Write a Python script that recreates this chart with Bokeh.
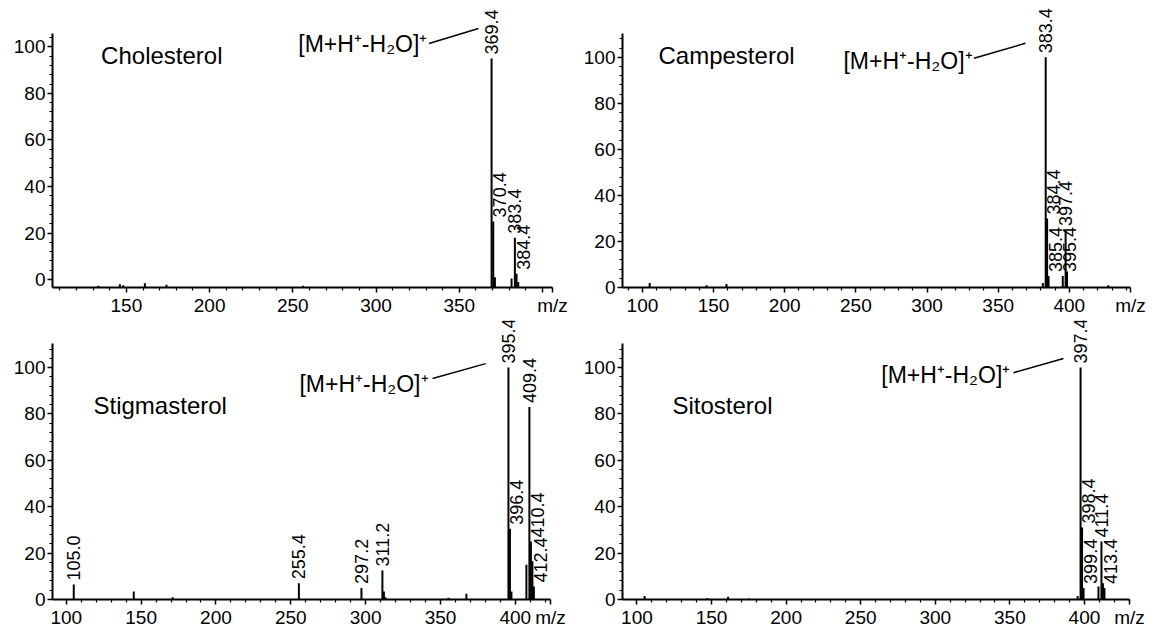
import math
from bokeh.plotting import figure
from bokeh.models import Range1d, FixedTicker, SingleIntervalTicker
from bokeh.layouts import column, row
from bokeh.embed import file_html
from bokeh.resources import INLINE
from bokeh.core.properties import value

FONT = "Liberation Sans"

# ---------------- data (m/z, relative intensity) ----------------
chol_mz = [133.1, 146.1, 148.1, 161.1, 174.1, 256.2, 369.4, 370.4, 371.4, 381.4, 383.4, 384.4, 385.4]
chol_int = [-2.6, -2.0, -2.4, -1.6, -2.2, -2.6, 95, 25, 1, 0.5, 18, 2.5, -1]
chol_labels = ["369.4", "370.4", "383.4", "384.4"]

camp_mz = [105.1, 145.1, 159.1, 381.4, 383.4, 384.4, 385.4, 395.4, 397.4, 398.4, 427.4]
camp_int = [2, 1, 1.5, 2, 100, 30, 5, 5, 25, 7, 1]
camp_labels = ["383.4", "384.4", "385.4", "395.4", "397.4"]

stig_mz = [105.0, 145.1, 171.1, 255.4, 297.2, 311.2, 312.2, 313.2, 355.3, 367.3,
           395.4, 396.4, 397.4, 407.4, 409.4, 410.4, 411.4, 412.4]
stig_int = [6.5, 3.5, 1, 7, 5, 12.5, 3.5, 1, 0.8, 2.5,
            100, 30.5, 3.5, 15, 83, 25, 16.5, 5.6]
stig_labels = ["105.0", "255.4", "297.2", "311.2", "395.4", "396.4", "409.4", "410.4", "412.4"]

sito_mz = [105.1, 147.1, 161.1, 175.1, 395.4, 397.4, 398.4, 399.4, 409.4, 411.4, 412.4, 413.4]
sito_int = [1.5, 0.7, 1.2, 0.4, 1.5, 100, 31, 5, 5.6, 25, 7, 5]
sito_labels = ["397.4", "398.4", "399.4", "411.4", "413.4"]

x_major = [100, 150, 200, 250, 300, 350, 400]
x_minor_step = 10
ion_text = "[M+H\u207a-H\u2082O]\u207a"
axis_unit = "m/z"

# ---------------- layout of the four panels ----------------
panels = [
    dict(name="Cholesterol", mz=chol_mz, inten=chol_int, labels=chol_labels,
         w=577, h=320, bl=52, br=25, bb=33, xr=(105.6, 406.0), yr=(-3.4, 119.9), yb=(-3.4, 105.6),
         title_xy=(134.8, 96.3), ann_xy=(330.8, 101.4), lead=(331.8, 101.4, 361.5, 107.9), hide=[400]),
    dict(name="Campesterol", mz=camp_mz, inten=camp_int, labels=camp_labels,
         w=578, h=320, bl=45, br=25, bb=32, xr=(86.0, 443.0), yr=(0, 124.7), yb=(0, 110.4),
         title_xy=(111.3, 100.9), ann_xy=(332.0, 98.3), lead=(333.0, 99.6, 369.2, 106.1), hide=[]),
    dict(name="Stigmasterol", mz=stig_mz, inten=stig_int, labels=stig_labels,
         w=577, h=312, bl=52, br=27, bb=33, xr=(90.8, 423.5), yr=(0, 120.3), yb=(0, 110.3),
         title_xy=(118.2, 83.6), ann_xy=(342.0, 93.1), lead=(344.7, 95.3, 380.2, 101.7), hide=[]),
    dict(name="Sitosterol", mz=sito_mz, inten=sito_int, labels=sito_labels,
         w=578, h=312, bl=45, br=26, bb=33, xr=(90.3, 430.2), yr=(0, 120.3), yb=(0, 110.3),
         title_xy=(123.8, 83.6), ann_xy=(350.3, 97.0), lead=(352.4, 97.8, 385.9, 103.9), hide=[]),
]


def style_axis(ax):
    ax.axis_line_width = 2
    ax.axis_line_color = "black"
    ax.major_tick_line_color = "black"
    ax.minor_tick_line_color = "black"
    ax.major_tick_line_width = 1.5
    ax.minor_tick_line_width = 1.2
    ax.major_tick_in = 0
    ax.major_tick_out = 5
    ax.minor_tick_in = 0
    ax.minor_tick_out = 3
    ax.major_label_standoff = 2
    ax.major_label_text_font = FONT
    ax.major_label_text_font_size = "19px"
    ax.major_label_text_color = "black"


def make_panel(c):
    x0r, x1r = c["xr"]
    p = figure(width=c["w"], height=c["h"], output_backend="svg", toolbar_location=None,
               x_range=Range1d(x0r, x1r), y_range=Range1d(*c["yr"]),
               min_border_left=c["bl"], min_border_right=c["br"],
               min_border_top=0, min_border_bottom=c["bb"])
    p.outline_line_color = None
    p.background_fill_color = "white"
    p.border_fill_color = "white"
    p.xgrid.visible = False
    p.ygrid.visible = False

    # x ticks: majors every 50, minors every 10, plus the unit label at the axis end
    unit_pos = round(x1r - 0.01, 2)
    majors = [t for t in x_major if x0r <= t <= x1r]
    minors = [t for t in range(80, 460, x_minor_step) if x0r <= t <= x1r and t not in majors]
    p.xaxis.ticker = FixedTicker(ticks=majors + [unit_pos], minor_ticks=minors)
    overrides = {t: "" for t in c["hide"]}
    overrides[unit_pos] = axis_unit
    p.xaxis.major_label_overrides = overrides

    p.yaxis.ticker = SingleIntervalTicker(interval=20, num_minor_ticks=5)
    p.yaxis.bounds = c["yb"]
    style_axis(p.xaxis[0])
    style_axis(p.yaxis[0])

    base = c["yr"][0]
    mz, inten = c["mz"], c["inten"]
    p.segment(x0=mz, y0=[base] * len(mz), x1=mz, y1=inten,
              line_color="black", line_width=2)

    # peak labels: centred on the peak, or beside it when a taller peak is adjacent
    cx, cy, ct, sx, sy, st = [], [], [], [], [], []
    for lab in c["labels"]:
        m = float(lab)
        i = min(range(len(mz)), key=lambda k: abs(mz[k] - m))
        h = inten[i]
        crowded = any(abs(o - m) <= 3 and o != mz[i] and hi > h for o, hi in zip(mz, inten))
        if crowded:
            sx.append(m); sy.append(h); st.append(lab)
        else:
            cx.append(m); cy.append(h); ct.append(lab)
    common = dict(angle=math.pi / 2, text_align="left", text_font=value(FONT),
                  text_font_size="18px", text_color="black", y_offset=-4)
    p.text(x=cx, y=cy, text=ct, text_baseline="middle", **common)
    p.text(x=sx, y=sy, text=st, text_baseline="top", **common)

    # compound name
    p.text(x=[c["title_xy"][0]], y=[c["title_xy"][1]], text=[c["name"]],
           text_align="left", text_baseline="middle", text_font=value(FONT),
           text_font_size="24px", text_color="black")
    # ion annotation with leader line
    p.text(x=[c["ann_xy"][0]], y=[c["ann_xy"][1]], text=[ion_text],
           text_align="right", text_baseline="middle", text_font=value(FONT),
           text_font_size="23px", text_color="black")
    lx0, ly0, lx1, ly1 = c["lead"]
    p.segment(x0=[lx0], y0=[ly0], x1=[lx1], y1=[ly1], line_color="black", line_width=1.5)
    return p


figs = [make_panel(c) for c in panels]
layout = column(row(figs[0], figs[1]), row(figs[2], figs[3]))

open("out.html", "w").write(file_html(layout, INLINE))
